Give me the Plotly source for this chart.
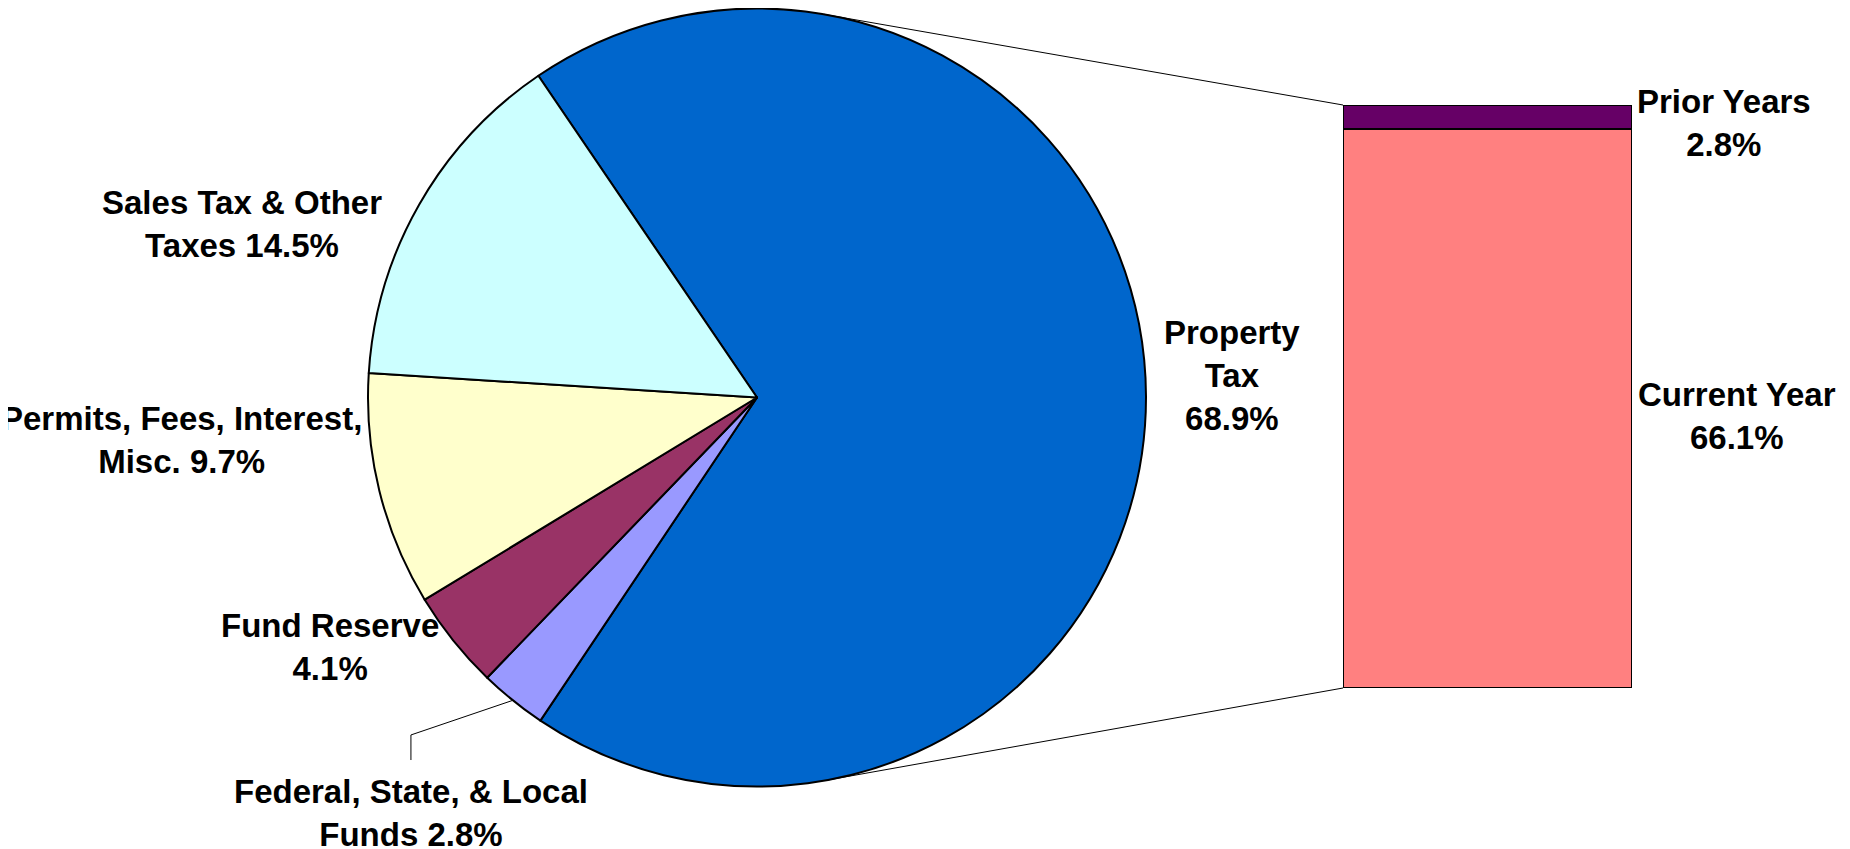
import math
import plotly.graph_objects as go

# ---------------- data ----------------
pie_categories = ["Property Tax", "Federal, State, & Local Funds", "Fund Reserve",
                  "Permits, Fees, Interest, Misc.", "Sales Tax & Other Taxes"]
pie_values = [68.9, 2.8, 4.1, 9.7, 14.5]
pie_label_text = ["Property<br>Tax", "Federal, State, & Local<br>Funds", "Fund Reserve<br>",
                  "Permits, Fees, Interest,<br>Misc.", "Sales Tax & Other<br>Taxes"]
pie_colors = ["#0066CC", "#9999FF", "#993366", "#FFFFCC", "#CCFFFF"]

bar_categories = ["Current Year", "Prior Years"]
bar_values = [66.1, 2.8]
bar_label_text = ["Current Year<br>", "Prior Years<br>"]
bar_colors = ["#FF8080", "#660066"]

# ---------------- layout geometry (figure pixels) ----------------
OFF = 8                                   # page body margin
W, H = 1850 - 2 * OFF, 849 - OFF
cx, cy, r = 757.0 - OFF, 397.5 - OFF, 389.0
rotation = -34.2
bar_x0, bar_x1 = 1343.0 - OFF, 1632.0 - OFF
bar_ytop, bar_ybot = 105.0 - OFF, 688.0 - OFF

def px2paper(x, y):
    return x / W, 1 - y / H

pie_dom_x = [max(0, (cx - r) / W), min(1, (cx + r) / W)]
pie_dom_y = [max(0, 1 - (cy + r) / H), min(1, 1 - (cy - r) / H)]
bar_dom_x = [bar_x0 / W, bar_x1 / W]
bar_dom_y = [1 - bar_ybot / H, 1 - bar_ytop / H]
bar_total = sum(bar_values)

fig = go.Figure()
fig.add_trace(go.Pie(
    labels=pie_categories, values=pie_values, sort=False, direction="clockwise",
    rotation=rotation, textinfo="none", hoverinfo="skip", showlegend=False,
    marker=dict(colors=pie_colors, line=dict(color="black", width=2)),
    domain=dict(x=pie_dom_x, y=pie_dom_y),
))
for name, val, col in zip(bar_categories, bar_values, bar_colors):
    fig.add_trace(go.Bar(
        x=[0], y=[val], name=name, width=1, showlegend=False, hoverinfo="skip",
        marker=dict(color=col, line=dict(color="black", width=2)),
    ))

# ---------------- labels ----------------
label_pos_px = {
    "Property Tax": (1232 - OFF, 375 - OFF),
    "Federal, State, & Local Funds": (411 - OFF, 813 - OFF),
    "Fund Reserve": (330 - OFF, 647 - OFF),
    "Permits, Fees, Interest, Misc.": (181 - OFF, 440 - OFF),
    "Sales Tax & Other Taxes": (242 - OFF, 224 - OFF),
    "Current Year": (1737 - OFF, 416 - OFF),
    "Prior Years": (1724 - OFF, 123 - OFF),
}
font = dict(family="Liberation Sans, Arial, sans-serif", size=33, color="black", weight="bold")
annotations = []
for cat, val, txt in list(zip(pie_categories, pie_values, pie_label_text)) + \
        list(zip(bar_categories, bar_values, bar_label_text)):
    sep = "" if txt.endswith("<br>") else " "
    text = f"{txt}{sep}{val:.1f}%"
    if cat == "Property Tax":
        text = f"{txt}<br>{val:.1f}%"
    px, py = label_pos_px[cat]
    ax, ay = px2paper(px, py)
    annotations.append(dict(x=ax, y=ay, xref="paper", yref="paper", text=text,
                            showarrow=False, xanchor="center", yanchor="middle",
                            font=font, align="center"))

# ---------------- connector lines ----------------
shapes = []
def tangent_point(ex, ey, upper):
    dx, dy = ex - cx, ey - cy
    d = math.hypot(dx, dy)
    base = math.atan2(dy, dx)
    off = math.acos(r / d)
    a = base - off if upper else base + off
    return cx + r * math.cos(a), cy + r * math.sin(a)

for (ex, ey), upper in [((bar_x0, bar_ytop), True), ((bar_x0, bar_ybot), False)]:
    tx, ty = tangent_point(ex, ey, upper)
    x0p, y0p = px2paper(tx, ty)
    x1p, y1p = px2paper(ex, ey)
    shapes.append(dict(type="line", xref="paper", yref="paper", x0=x0p, y0=y0p,
                       x1=x1p, y1=y1p, line=dict(color="black", width=1), layer="below"))

# leader for the small federal slice
cum = 0.0
total = sum(pie_values)
for cat, val in zip(pie_categories, pie_values):
    if cat == "Federal, State, & Local Funds":
        mid = rotation + (cum + val / 2) / total * 360
        sx = cx + r * math.sin(math.radians(mid))
        sy = cy - r * math.cos(math.radians(mid))
        lx, ly = label_pos_px[cat]
        pts = [(sx, sy), (lx, ly - 78), (lx, ly - 53)]
        path = "M " + " L ".join(f"{p[0]:.4f},{p[1]:.4f}" for p in (px2paper(*q) for q in pts))
        shapes.append(dict(type="path", path=path, xref="paper", yref="paper",
                           line=dict(color="black", width=1)))
    cum += val

fig.update_layout(
    width=W, height=H, margin=dict(l=0, r=0, t=0, b=0),
    paper_bgcolor="white", plot_bgcolor="rgba(0,0,0,0)",
    barmode="stack", bargap=0,
    xaxis=dict(domain=bar_dom_x, range=[-0.5, 0.5], visible=False, fixedrange=True),
    yaxis=dict(domain=bar_dom_y, range=[0, bar_total], visible=False, fixedrange=True),
    annotations=annotations, shapes=shapes,
)
fig.write_html("out.html", config={"displayModeBar": False})
